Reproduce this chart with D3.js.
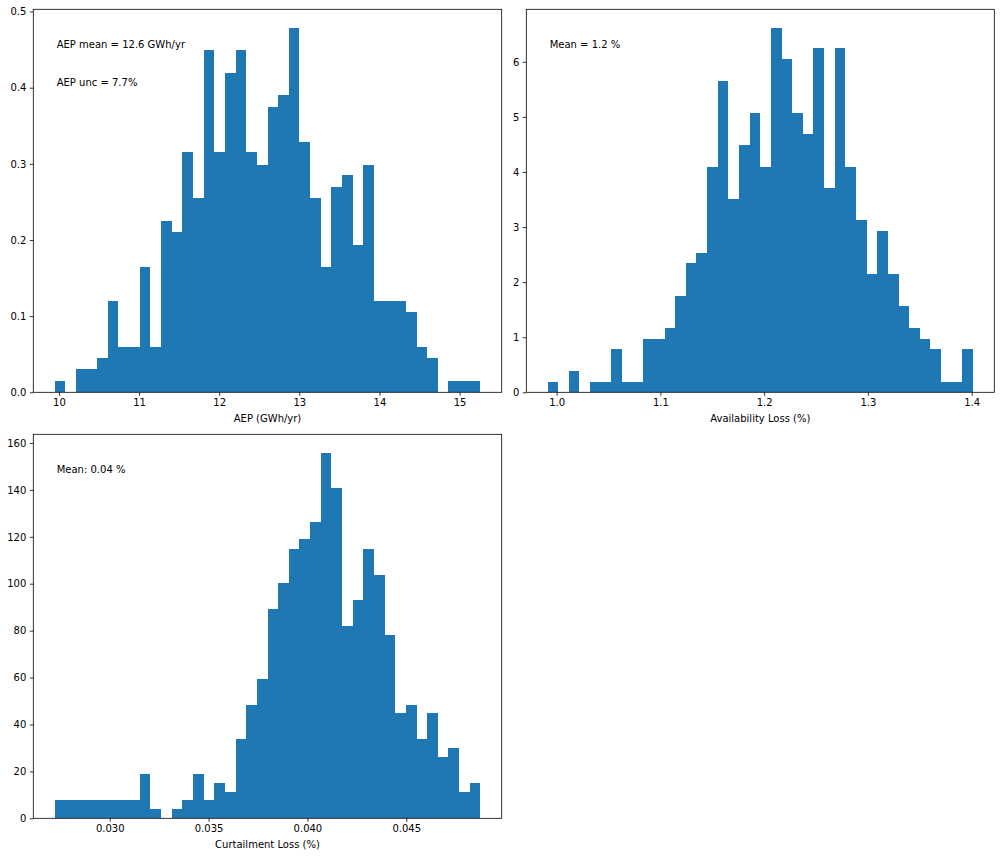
<!DOCTYPE html>
<html>
<head>
<meta charset="utf-8">
<script src="https://cdn.jsdelivr.net/npm/d3@7"></script>
<style>
    body { margin: 0; background: #fff; }
    svg text { font-family: "DejaVu Sans", sans-serif; fill: #000; }
    .tick text { font-size: 10px; }
    .axis-title, .note { font-size: 10px; }
</style>
</head>
<body>
<div id="chart"></div>
<script>
// Histogram data (40 bins each)
const aepRange = [9.946, 15.26];
const aepDensity = [0.015, 0, 0.030, 0.030, 0.045, 0.120, 0.060, 0.060, 0.164, 0.060,
    0.225, 0.210, 0.315, 0.255, 0.449, 0.315, 0.419, 0.449, 0.315, 0.299,
    0.374, 0.390, 0.479, 0.329, 0.255, 0.164, 0.270, 0.285, 0.194, 0.299,
    0.120, 0.120, 0.120, 0.105, 0.060, 0.045, 0, 0.015, 0.015, 0.015];
const aepTicksX = [10, 11, 12, 13, 14, 15];
const aepTicksY = [0, 0.1, 0.2, 0.3, 0.4, 0.5];

const availRange = [0.9913, 1.4013];
const availDensity = [0.187, 0, 0.387, 0, 0.187, 0.187, 0.786, 0.187, 0.187, 0.967,
    0.967, 1.166, 1.746, 2.344, 2.526, 4.085, 5.644, 3.505, 4.483, 5.063,
    4.085, 6.622, 6.042, 5.063, 4.683, 6.242, 3.704, 6.242, 4.085, 3.124,
    2.145, 2.924, 2.145, 1.565, 1.166, 0.967, 0.786, 0.187, 0.187, 0.786];
const availTicksX = [1.0, 1.1, 1.2, 1.3, 1.4];
const availTicksY = [0, 1, 2, 3, 4, 5, 6];

const curtRange = [0.027213, 0.04875];
const curtDensity = [7.8, 7.8, 7.8, 7.8, 7.8, 7.8, 7.8, 7.8, 18.9, 4.0,
    0, 4.0, 7.8, 18.9, 7.8, 15.0, 11.2, 33.8, 48.2, 59.3,
    89.1, 100.1, 115.0, 118.9, 126.1, 155.9, 141.0, 81.8, 92.9, 115.0,
    103.9, 78.0, 44.8, 48.2, 33.8, 44.8, 26.1, 29.9, 11.2, 15.0];
const curtTicksX = [0.030, 0.035, 0.040, 0.045];
const curtTicksY = [0, 20, 40, 60, 80, 100, 120, 140, 160];

const svg = d3.select('#chart').append('svg')
    .attr('width', 1000)
    .attr('height', 856);

function drawHist(cfg) {
    const w = cfg.box.right - cfg.box.left;
    const h = cfg.box.bottom - cfg.box.top;
    const g = svg.append('g')
        .attr('transform', `translate(${cfg.box.left},${cfg.box.top})`);

    const n = cfg.values.length;
    const binW = (cfg.range[1] - cfg.range[0]) / n;
    const pad = (cfg.range[1] - cfg.range[0]) * 0.05;

    const x = d3.scaleLinear()
        .domain([cfg.range[0] - pad, cfg.range[1] + pad])
        .range([0, w]);
    const y = d3.scaleLinear()
        .domain([0, d3.max(cfg.values) * 1.05])
        .range([h, 0]);

    const bins = cfg.values.map((v, i) => ({
        x0: cfg.range[0] + i * binW,
        x1: cfg.range[0] + (i + 1) * binW,
        v: v
    }));

    // crispEdges so neighbouring bars don't leave faint seams
    g.selectAll('.bar')
        .data(bins.filter(d => d.v > 0))
        .join('rect')
        .attr('class', 'bar')
        .attr('x', d => x(d.x0))
        .attr('width', d => x(d.x1) - x(d.x0))
        .attr('y', d => y(d.v))
        .attr('height', d => h - y(d.v))
        .attr('fill', '#1f77b4')
        .attr('shape-rendering', 'crispEdges');

    const xAxis = d3.axisBottom(x)
        .tickValues(cfg.ticksX)
        .tickFormat(d3.format(cfg.fmtX))
        .tickSize(3.5)
        .tickPadding(3.5);
    const yAxis = d3.axisLeft(y)
        .tickValues(cfg.ticksY)
        .tickFormat(d3.format(cfg.fmtY))
        .tickSize(3.5)
        .tickPadding(3.5);

    g.append('g')
        .attr('transform', `translate(0,${h})`)
        .call(xAxis)
        .call(a => a.select('.domain').remove())
        .call(a => a.selectAll('line').attr('stroke', '#000').attr('stroke-width', 0.8))
        .call(a => a.selectAll('text').attr('font-size', 10).attr('font-family', null));

    g.append('g')
        .call(yAxis)
        .call(a => a.select('.domain').remove())
        .call(a => a.selectAll('line').attr('stroke', '#000').attr('stroke-width', 0.8))
        .call(a => a.selectAll('text').attr('font-size', 10).attr('font-family', null));

    // Frame around the axes
    g.append('rect')
        .attr('width', w)
        .attr('height', h)
        .attr('fill', 'none')
        .attr('stroke', '#000')
        .attr('stroke-width', 0.8);

    g.append('text')
        .attr('class', 'axis-title')
        .attr('x', w / 2)
        .attr('y', h + 29.5)
        .attr('text-anchor', 'middle')
        .text(cfg.label);

    cfg.notes.forEach(nt => {
        g.append('text')
            .attr('class', 'note')
            .attr('x', 0.05 * w)
            .attr('y', h * (1 - nt.at))
            .text(nt.text);
    });
}

drawHist({
    box: {left: 33.3, top: 9.3, right: 501.7, bottom: 392.3},
    range: aepRange, values: aepDensity,
    ticksX: aepTicksX, ticksY: aepTicksY, fmtX: 'd', fmtY: '.1f',
    label: 'AEP (GWh/yr)',
    notes: [{text: 'AEP mean = 12.6 GWh/yr', at: 0.9}, {text: 'AEP unc = 7.7%', at: 0.8}]
});

drawHist({
    box: {left: 526.3, top: 9.3, right: 994.3, bottom: 392.3},
    range: availRange, values: availDensity,
    ticksX: availTicksX, ticksY: availTicksY, fmtX: '.1f', fmtY: 'd',
    label: 'Availability Loss (%)',
    notes: [{text: 'Mean = 1.2 %', at: 0.9}]
});

drawHist({
    box: {left: 33.3, top: 434.3, right: 501.7, bottom: 818.3},
    range: curtRange, values: curtDensity,
    ticksX: curtTicksX, ticksY: curtTicksY, fmtX: '.3f', fmtY: 'd',
    label: 'Curtailment Loss (%)',
    notes: [{text: 'Mean: 0.04 %', at: 0.9}]
});
</script>
</body>
</html>
